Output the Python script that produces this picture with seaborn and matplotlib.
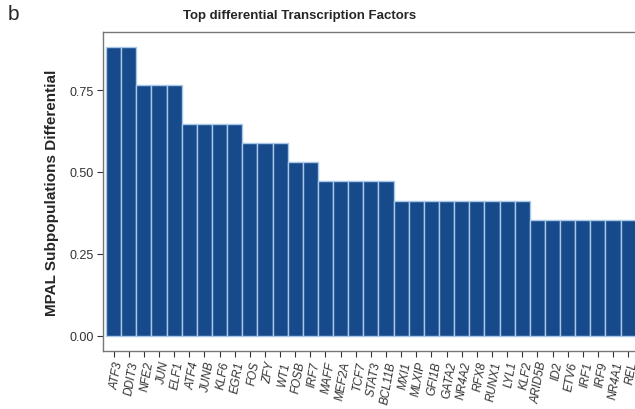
import seaborn as sns
import matplotlib.pyplot as plt
import pandas as pd

factors = ["ATF3", "DDIT3", "NFE2", "JUN", "ELF1", "ATF4", "JUNB", "KLF6", "EGR1",
           "FOS", "ZFY", "WT1", "FOSB", "IRF7", "MAFF", "MEF2A", "TCF7", "STAT3",
           "BCL11B", "MXI1", "MLXIP", "GFI1B", "GATA2", "NR4A2", "RFX8", "RUNX1",
           "LYL1", "KLF2", "ARID5B", "ID2", "ETV6", "IRF1", "IRF9", "NR4A1", "REL"]
differential = [0.882, 0.882, 0.765, 0.765, 0.765, 0.647, 0.647, 0.647, 0.647,
                0.588, 0.588, 0.588, 0.529, 0.529, 0.471, 0.471, 0.471, 0.471,
                0.471, 0.412, 0.412, 0.412, 0.412, 0.412, 0.412, 0.412,
                0.412, 0.412, 0.353, 0.353, 0.353, 0.353, 0.353, 0.353, 0.353]
y_ticks = [0.00, 0.25, 0.50, 0.75]

df = pd.DataFrame({"tf": factors, "diff": differential})

sns.set_style("white")
plt.rcParams['font.family'] = ['Liberation Sans', 'DejaVu Sans']

fig = plt.figure(figsize=(6.35, 4.1), dpi=100)
ax = fig.add_axes([0.1622, 0.1415, 0.8378, 0.778])

sns.barplot(data=df, x="tf", y="diff", color="#174a8b", saturation=1,
            width=1.0, edgecolor="#a8c8ea", linewidth=1.0, ax=ax)

ax.set_xlim(-0.7, 34.45)
ax.set_ylim(-0.046, 0.927)
ax.set_yticks(y_ticks)
ax.set_yticklabels([f"{v:.2f}" for v in y_ticks], fontsize=9, color="#333333")
ax.set_xticks(range(len(factors)))
ax.set_xticklabels(factors, rotation=80, ha="right", rotation_mode="anchor",
                   fontsize=8.5, style="italic", color="#333333")
ax.tick_params(axis="both", length=4.5, width=0.8, color="#333333", pad=2,
               bottom=True, left=True)
ax.set_xlabel("")
ax.set_ylabel("MPAL Subpopulations Differential", fontsize=11, fontweight="bold")
ax.yaxis.set_label_coords(-0.083, 0.5)

for side in ["left", "bottom", "top"]:
    ax.spines[side].set_visible(True)
    ax.spines[side].set_color("#777777")
    ax.spines[side].set_linewidth(1.0)
ax.spines["right"].set_visible(False)

fig.text(300 / 635, 1 - 16 / 410, "Top differential Transcription Factors",
         ha="center", va="center", fontsize=9.5, fontweight="bold")
fig.text(8 / 635, 1 - 14 / 410, "b", ha="left", va="center", fontsize=15)

fig.savefig("out.png", dpi=100)
plt.close(fig)
